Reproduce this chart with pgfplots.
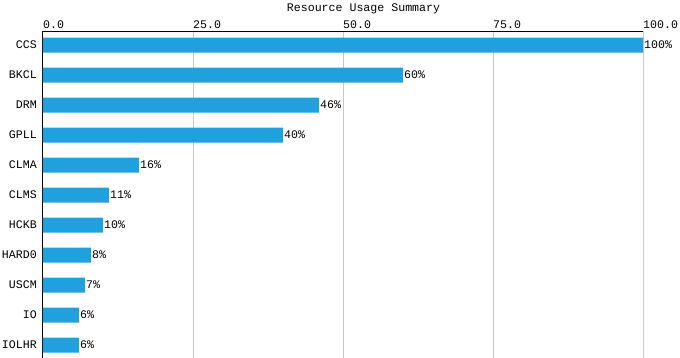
\documentclass[border=0pt]{standalone}
\usepackage{fontspec}
\setmainfont{Liberation Mono}
\usepackage{pgfplots}
\pgfplotsset{compat=1.18}
\definecolor{barblue}{RGB}{33,160,222}
\definecolor{gridgray}{RGB}{200,200,200}
\begin{document}
\begin{tikzpicture}[font=\fontsize{11.6pt}{13pt}\selectfont]
\useasboundingbox (0,0) rectangle (680pt,357pt);
\begin{axis}[
  at={(43pt,-20pt)}, anchor=south west,
  scale only axis, width=600pt, height=346pt,
  xbar, bar width=15pt,
  xmin=0, xmax=100,
  ymin=-1.0667, ymax=10.4667,
  axis x line=top, axis y line=left,
  axis line style={-, black, line width=1pt},
  xtick={0,25,50,75,100},
  xticklabel={\pgfmathprintnumber[fixed,fixed zerofill,precision=1,assume math mode=true]{\tick}},
  xticklabel style={anchor=south west, inner sep=0pt, yshift=2.5pt},
  ytick={0,...,10},
  yticklabels={IOLHR,IO,USCM,HARD0,HCKB,CLMS,CLMA,GPLL,DRM,BKCL,CCS},
  yticklabel style={anchor=east, inner sep=0pt, xshift=-6pt},
  major tick length=0pt,
  xmajorgrids, grid style={gridgray, line width=1pt},
  nodes near coords={\pgfmathprintnumber[fixed,precision=0,assume math mode=true]{\pgfplotspointmeta}\%},
  point meta=x,
  every node near coord/.append style={anchor=west, inner sep=0pt, xshift=1pt, black},
  clip=false,
]
\addplot[fill=barblue, draw=none] coordinates {(6,0) (6,1) (7,2) (8,3) (10,4) (11,5) (16,6) (40,7) (46,8) (60,9) (100,10)};
\end{axis}
\node[anchor=base] at (363.5pt,345.5pt) {Resource Usage Summary};
\end{tikzpicture}
\end{document}
